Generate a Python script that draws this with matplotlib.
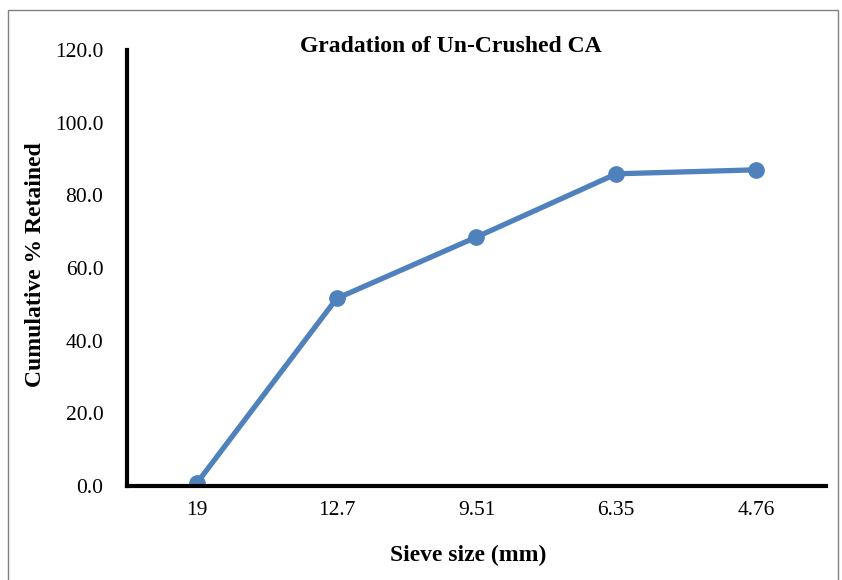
import matplotlib.pyplot as plt
from matplotlib.patches import Rectangle

sieve = ['19', '12.7', '9.51', '6.35', '4.76']
retained = [0.8, 51.6, 68.5, 85.9, 87.0]
yticks = [0, 20, 40, 60, 80, 100, 120]

plt.rcParams['font.family'] = ['Liberation Serif', 'DejaVu Serif']

fig = plt.figure(figsize=(8.42, 5.80), dpi=100)
ax = fig.add_axes([0.1508, 0.162, 0.8302, 0.752])

x = list(range(len(sieve)))
ax.plot(x, retained, color='#4F81BD', linewidth=3.8, marker='o',
        markersize=11, solid_capstyle='round')

ax.set_xlim(-0.5, len(sieve) - 0.5)
ax.set_ylim(0, 120)
ax.set_xticks(x)
ax.set_xticklabels(sieve)
ax.set_yticks(yticks)
ax.set_yticklabels(['%.1f' % v for v in yticks])
ax.tick_params(length=0, labelsize=15.5)
ax.tick_params(axis='x', pad=11)
ax.tick_params(axis='y', pad=17)

for s in ['top', 'right']:
    ax.spines[s].set_visible(False)
for s in ['left', 'bottom']:
    ax.spines[s].set_linewidth(3)
    ax.spines[s].set_color('black')

fig.text(451 / 842, 1 - 47 / 580, 'Gradation of Un-Crushed CA',
         ha='center', va='center', fontsize=17, fontweight='bold')
fig.text(468 / 842, 1 - 555 / 580, 'Sieve size (mm)',
         ha='center', va='center', fontsize=17, fontweight='bold')
fig.text(36 / 842, 1 - 265 / 580, 'Cumulative % Retained', rotation=90,
         ha='center', va='center', fontsize=17, fontweight='bold')

fig.patches.append(Rectangle((8 / 842, -0.01), 830 / 842, 1 - 10 / 580 + 0.01,
                             transform=fig.transFigure, fill=False,
                             edgecolor='#808080', linewidth=1))

fig.savefig('out.png', dpi=100)
